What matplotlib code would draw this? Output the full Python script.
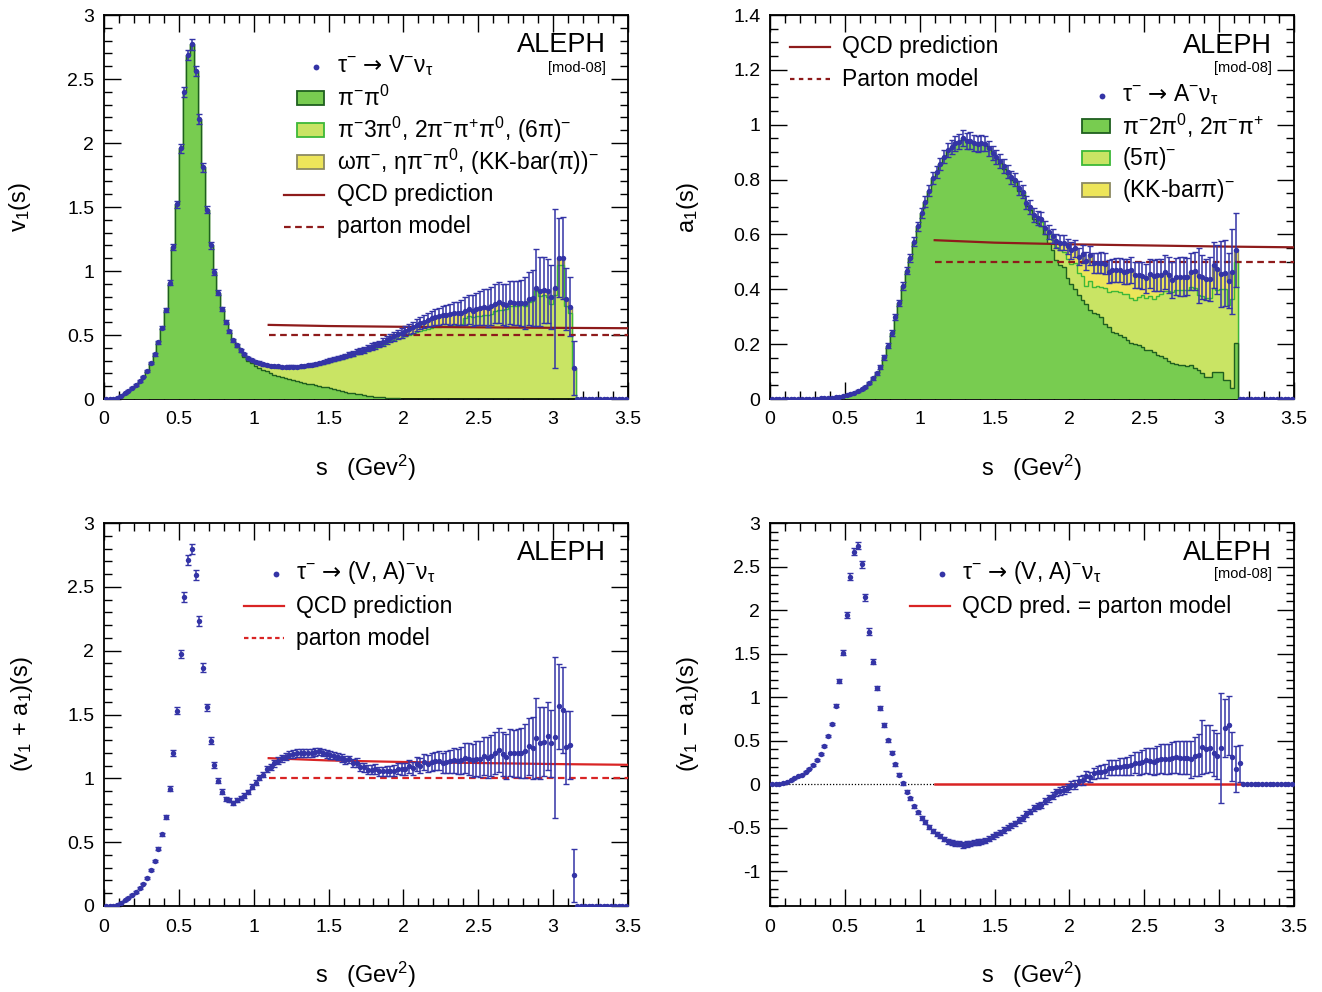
import numpy as np
import matplotlib
matplotlib.use("Agg")
import matplotlib.pyplot as plt
from matplotlib.patches import Rectangle
from matplotlib.lines import Line2D
from matplotlib.ticker import MultipleLocator, FuncFormatter

plt.rcParams['font.family'] = ['Liberation Sans', 'DejaVu Sans']
plt.rcParams['mathtext.fontset'] = 'custom'
plt.rcParams['mathtext.rm'] = 'Liberation Sans'
plt.rcParams['mathtext.it'] = 'Liberation Sans:italic'
plt.rcParams['mathtext.bf'] = 'Liberation Sans:bold'
plt.rcParams['mathtext.sf'] = 'DejaVu Sans'
plt.rcParams['mathtext.default'] = 'regular'

# ---------------------------------------------------------------- data
# 140 bins of 0.025 GeV^2 from 0 to 3.5 GeV^2
bin_width = 0.025
s_edges = np.arange(141) * bin_width
s_mid = s_edges[:-1] + bin_width / 2

# vector spectral function v1(s), total
v1 = [0, 0, 0, 0.008, 0.026, 0.044, 0.065, 0.088, 0.11, 0.14,
      0.175, 0.22, 0.279, 0.349, 0.445, 0.557, 0.695, 0.91, 1.19, 1.52,
      1.96, 2.40, 2.69, 2.77, 2.56, 2.19, 1.81, 1.48, 1.20, 0.99,
      0.83, 0.70, 0.60, 0.53, 0.46, 0.42, 0.38, 0.35, 0.32, 0.305,
      0.29, 0.285, 0.27, 0.265, 0.26, 0.26, 0.255, 0.25, 0.25, 0.253,
      0.252, 0.25, 0.255, 0.258, 0.262, 0.268, 0.272, 0.28, 0.287, 0.295,
      0.303, 0.31, 0.322, 0.33, 0.337, 0.348, 0.355, 0.368, 0.375, 0.385,
      0.398, 0.41, 0.418, 0.43, 0.445, 0.46, 0.48, 0.49, 0.505, 0.515,
      0.53, 0.545, 0.56, 0.58, 0.595, 0.605, 0.62, 0.632, 0.64, 0.645,
      0.655, 0.66, 0.662, 0.67, 0.668, 0.675, 0.69, 0.70, 0.69, 0.705,
      0.712, 0.72, 0.71, 0.725, 0.745, 0.755, 0.74, 0.735, 0.755, 0.752,
      0.75, 0.752, 0.75, 0.785, 0.79, 0.87, 0.84, 0.85, 0.845, 0.80,
      0.865, 1.105, 1.105, 0.78, 0.72, 0.24, 0, 0, 0, 0,
      0, 0, 0, 0, 0, 0, 0, 0, 0, 0]

v1_err = [0, 0, 0, 0.003, 0.004, 0.004, 0.005, 0.005, 0.005, 0.006,
          0.006, 0.007, 0.008, 0.01, 0.012, 0.014, 0.016, 0.02, 0.024, 0.03,
          0.035, 0.04, 0.04, 0.04, 0.04, 0.038, 0.035, 0.03, 0.026, 0.022,
          0.018, 0.016, 0.014, 0.012, 0.011, 0.01, 0.009, 0.009, 0.009, 0.009,
          0.009, 0.009, 0.009, 0.009, 0.009, 0.009, 0.01, 0.01, 0.01, 0.01,
          0.01, 0.01, 0.01, 0.01, 0.01, 0.01, 0.012, 0.012, 0.013, 0.014,
          0.014, 0.015, 0.016, 0.016, 0.017, 0.018, 0.019, 0.02, 0.021, 0.022,
          0.023, 0.024, 0.026, 0.027, 0.028, 0.03, 0.031, 0.033, 0.035, 0.036,
          0.038, 0.04, 0.042, 0.045, 0.047, 0.05, 0.055, 0.058, 0.062, 0.065,
          0.07, 0.075, 0.08, 0.085, 0.09, 0.095, 0.11, 0.115, 0.12, 0.125,
          0.13, 0.14, 0.15, 0.15, 0.155, 0.16, 0.16, 0.165, 0.17, 0.17,
          0.175, 0.18, 0.2, 0.21, 0.22, 0.3, 0.27, 0.26, 0.25, 0.25,
          0.62, 0.31, 0.32, 0.24, 0.23, 0.21, 0, 0, 0, 0,
          0, 0, 0, 0, 0, 0, 0, 0, 0, 0]

# pi- pi0 contribution to v1
v1_2pi = [0, 0, 0, 0.008, 0.026, 0.044, 0.065, 0.088, 0.11, 0.14,
          0.175, 0.22, 0.279, 0.349, 0.445, 0.557, 0.695, 0.91, 1.19, 1.52,
          1.96, 2.40, 2.69, 2.77, 2.56, 2.19, 1.81, 1.48, 1.20, 0.99,
          0.83, 0.70, 0.60, 0.525, 0.45, 0.405, 0.365, 0.33, 0.30, 0.28,
          0.26, 0.245, 0.227, 0.215, 0.20, 0.19, 0.182, 0.175, 0.163, 0.155,
          0.148, 0.142, 0.135, 0.128, 0.12, 0.115, 0.109, 0.103, 0.097, 0.09,
          0.083, 0.076, 0.07, 0.063, 0.057, 0.05, 0.045, 0.04, 0.036, 0.032,
          0.027, 0.023, 0.018, 0.015, 0.012, 0.01, 0.007, 0.005, 0.004, 0.003,
          0.002, 0.0015, 0.001, 0.001, 0.001, 0.001, 0.001, 0.001, 0.001, 0.001,
          0, 0, 0, 0, 0, 0, 0, 0, 0, 0,
          0, 0, 0, 0, 0, 0, 0, 0, 0, 0,
          0, 0, 0, 0, 0, 0, 0, 0, 0, 0,
          0, 0, 0, 0, 0, 0, 0, 0, 0, 0,
          0, 0, 0, 0, 0, 0, 0, 0, 0, 0]

# omega pi, eta pi pi0, KK(pi) contribution to v1 (top of the stack)
v1_other = [0] * 36 + [0.004] * 14 + [
    0.006, 0.006, 0.007, 0.008, 0.008, 0.009, 0.01, 0.01, 0.011, 0.012,
    0.013, 0.014, 0.015, 0.015, 0.016, 0.017, 0.018, 0.018, 0.019, 0.02,
    0.02, 0.021, 0.022, 0.023, 0.024, 0.025, 0.027, 0.029, 0.031, 0.035,
    0.04, 0.045, 0.05, 0.055, 0.06, 0.065, 0.075, 0.08, 0.08, 0.085,
    0.085, 0.09, 0.09, 0.095, 0.098, 0.09, 0.06, 0.055, 0.05, 0.055,
    0.06, 0.06, 0.055, 0.06, 0.06, 0.06, 0.045, 0.035, 0.03, 0.025,
    0.02, 0.02, 0.02, 0.025, 0.025, 0.03, 0.035, 0.04, 0.05, 0.06,
    0.05, 0.06, 0.06, 0.05, 0.05, 0, 0, 0, 0, 0,
    0, 0, 0, 0, 0, 0, 0, 0, 0, 0]

# axial-vector spectral function a1(s), total
a1 = [0, 0, 0, 0, 0, 0, 0, 0, 0, 0,
      0, 0, 0.001, 0.002, 0.003, 0.004, 0.005, 0.007, 0.009, 0.011,
      0.014, 0.018, 0.023, 0.029, 0.035, 0.045, 0.057, 0.075, 0.094, 0.117,
      0.152, 0.195, 0.24, 0.30, 0.35, 0.412, 0.468, 0.515, 0.573, 0.63,
      0.677, 0.72, 0.759, 0.805, 0.829, 0.857, 0.883, 0.908, 0.92, 0.932,
      0.938, 0.952, 0.94, 0.942, 0.934, 0.93, 0.932, 0.931, 0.914, 0.896,
      0.881, 0.868, 0.849, 0.829, 0.808, 0.80, 0.768, 0.756, 0.716, 0.70,
      0.67, 0.659, 0.655, 0.625, 0.61, 0.594, 0.575, 0.57, 0.57, 0.556,
      0.542, 0.55, 0.519, 0.53, 0.503, 0.524, 0.495, 0.497, 0.497, 0.494,
      0.464, 0.47, 0.47, 0.47, 0.464, 0.466, 0.47, 0.452, 0.452, 0.45,
      0.44, 0.457, 0.45, 0.452, 0.452, 0.464, 0.452, 0.434, 0.446, 0.446,
      0.446, 0.446, 0.464, 0.466, 0.45, 0.445, 0.437, 0.437, 0.488, 0.473,
      0.455, 0.46, 0.431, 0.464, 0.543, 0, 0, 0, 0, 0,
      0, 0, 0, 0, 0, 0, 0, 0, 0, 0]

a1_err = [0] * 10 + [0.001] * 10 + [
    0.002, 0.002, 0.002, 0.003, 0.003, 0.004, 0.004, 0.005, 0.006, 0.007,
    0.008, 0.009, 0.01, 0.011, 0.012, 0.013, 0.014, 0.015, 0.016, 0.017,
    0.018, 0.019, 0.02, 0.021, 0.022, 0.023, 0.024, 0.025, 0.026, 0.027,
    0.028, 0.03, 0.03, 0.03, 0.03, 0.03, 0.029, 0.028, 0.027, 0.026,
    0.025, 0.025, 0.025, 0.025, 0.025, 0.025, 0.025, 0.025, 0.025, 0.025,
    0.025, 0.025, 0.025, 0.025, 0.025, 0.025, 0.026, 0.027, 0.028, 0.029,
    0.03, 0.031, 0.032, 0.033, 0.034, 0.035, 0.036, 0.037, 0.038, 0.04,
    0.041, 0.042, 0.043, 0.044, 0.045, 0.046, 0.047, 0.048, 0.049, 0.05,
    0.052, 0.054, 0.056, 0.058, 0.06, 0.062, 0.064, 0.066, 0.068, 0.07,
    0.072, 0.068, 0.067, 0.07, 0.1, 0.08, 0.075, 0.08, 0.085, 0.09,
    0.12, 0.12, 0.1, 0.155, 0.134, 0, 0, 0, 0, 0,
    0, 0, 0, 0, 0, 0, 0, 0, 0, 0]

# pi- 2pi0, 2pi- pi+ contribution to a1
a1_3pi = a1[:60] + [
    0.875, 0.86, 0.84, 0.82, 0.80, 0.79, 0.757, 0.745, 0.705, 0.688,
    0.655, 0.643, 0.63, 0.60, 0.57, 0.545, 0.505, 0.49, 0.48, 0.44,
    0.42, 0.40, 0.38, 0.36, 0.345, 0.325, 0.315, 0.31, 0.30, 0.275,
    0.262, 0.245, 0.24, 0.235, 0.225, 0.215, 0.205, 0.20, 0.197, 0.19,
    0.18, 0.178, 0.17, 0.162, 0.155, 0.148, 0.14, 0.132, 0.128, 0.125,
    0.125, 0.12, 0.125, 0.112, 0.105, 0.095, 0.082, 0.08, 0.10, 0.10,
    0.10, 0.07, 0.07, 0.039, 0.203, 0, 0, 0, 0, 0,
    0, 0, 0, 0, 0, 0, 0, 0, 0, 0]

# KK-bar pi contribution to a1 (top of the stack)
a1_kkpi = [0] * 60 + [0.003] * 10 + [
    0.005, 0.01, 0.01, 0.01, 0.01, 0.015, 0.02, 0.025, 0.035, 0.045,
    0.05, 0.055, 0.06, 0.08, 0.09, 0.095, 0.085, 0.085, 0.087, 0.09,
    0.075, 0.075, 0.075, 0.08, 0.08, 0.085, 0.1, 0.09, 0.08, 0.07,
    0.07, 0.08, 0.085, 0.075, 0.07, 0.07, 0.06, 0.045, 0.05, 0.05,
    0.05, 0.05, 0.055, 0.06, 0.07, 0.07, 0.07, 0.07, 0.085, 0.075,
    0.055, 0.06, 0.09, 0.1, 0.043, 0, 0, 0, 0, 0,
    0, 0, 0, 0, 0, 0, 0, 0, 0, 0]

# perturbative QCD prediction per spectral function (v1 or a1) and parton level
qcd_s = [1.1, 1.5, 2.0, 2.5, 3.0, 3.5]
qcd_val = [0.579, 0.570, 0.564, 0.560, 0.556, 0.553]
parton_s = [1.1, 3.5]
parton_val = [0.5, 0.5]

# ---------------------------------------------------------------- style
C_DARK, C_DARK_EDGE = '#78cc50', '#1f5f1f'
C_LIGHT, C_LIGHT_EDGE = '#c9e464', '#3db838'
C_YEL, C_YEL_EDGE = '#ede55a', '#8c8a62'
C_PT = '#3434a6'
C_QCD_TOP = '#8e1b1b'
C_QCD_BOT = '#d92424'
ARROW = r'$\mathsf{→}$'

W, H = 1322, 992
fig = plt.figure(figsize=(W / 100, H / 100), dpi=100)


def add_panel(x0, y0, x1, y1):
    return fig.add_axes([x0 / W, 1 - y1 / H, (x1 - x0) / W, (y1 - y0) / H])


def fxy(px, py):
    return px / W, 1 - py / H


def fmt(v, _):
    if abs(v) < 1e-9:
        return '0'
    return f'{v:g}'


def style(ax, ylim, ymaj, ymin):
    ax.set_xlim(0, 3.5)
    ax.set_ylim(*ylim)
    ax.xaxis.set_major_locator(MultipleLocator(0.5))
    ax.xaxis.set_minor_locator(MultipleLocator(0.1))
    ax.yaxis.set_major_locator(MultipleLocator(ymaj))
    ax.yaxis.set_minor_locator(MultipleLocator(ymin))
    ax.xaxis.set_major_formatter(FuncFormatter(fmt))
    ax.yaxis.set_major_formatter(FuncFormatter(fmt))
    ax.tick_params(which='both', direction='in', top=True, right=True,
                   width=1.0, labelsize=14)
    ax.tick_params(which='major', length=12)
    ax.tick_params(which='minor', length=6)
    ax.tick_params(axis='x', pad=9)
    ax.tick_params(axis='y', pad=7)
    for sp in ax.spines.values():
        sp.set_linewidth(1.3)


def draw_points(ax, y, err):
    y = np.asarray(y, float)
    err = np.asarray(err, float)
    m = err > 0
    ax.errorbar(s_mid[m], y[m], yerr=err[m], fmt='none', ecolor=C_PT,
                elinewidth=1.1, capsize=2.2, capthick=1.0, zorder=6)
    ax.plot(s_mid, y, 'o', ms=3.9, mew=0, color=C_PT, zorder=7)


def draw_stack(ax, total, light_top, dark):
    ax.stairs(total, s_edges, fill=True, facecolor=C_YEL, edgecolor='none', zorder=1)
    ax.stairs(total, s_edges, color=C_YEL_EDGE, lw=1.0, zorder=1.1)
    ax.stairs(light_top, s_edges, fill=True, facecolor=C_LIGHT, edgecolor='none', zorder=2)
    ax.stairs(light_top, s_edges, color=C_LIGHT_EDGE, lw=1.0, zorder=2.1)
    ax.stairs(dark, s_edges, fill=True, facecolor=C_DARK, edgecolor='none', zorder=3)
    ax.stairs(dark, s_edges, color=C_DARK_EDGE, lw=1.0, zorder=3.1)


def legend_box(px0, px1, py, face, edge):
    x0, y0 = fxy(px0, py + 7)
    x1, y1 = fxy(px1, py - 7)
    fig.patches.append(Rectangle((x0, y0), x1 - x0, y1 - y0, transform=fig.transFigure,
                                 facecolor=face, edgecolor=edge, lw=1.3))


def legend_line(px0, px1, py, color, ls):
    x0, y = fxy(px0, py)
    x1, _ = fxy(px1, py)
    fig.lines.append(Line2D([x0, x1], [y, y], transform=fig.transFigure,
                            color=color, lw=1.6, ls=ls))


def legend_dot(px, py):
    x, y = fxy(px, py)
    fig.lines.append(Line2D([x], [y], transform=fig.transFigure, marker='o',
                            ms=4.2, mew=0, color=C_PT))


def label(px, py, txt, size=16.5, ha='left'):
    x, y = fxy(px, py)
    fig.text(x, y, txt, fontsize=size, ha=ha, va='center')


LEG = 16.5
v1_arr = np.asarray(v1, float)
a1_arr = np.asarray(a1, float)
v1_err_arr = np.asarray(v1_err, float)
a1_err_arr = np.asarray(a1_err, float)

# ---------------------------------------------------------------- v1 panel
ax = add_panel(104, 15, 628, 399)
style(ax, (0, 3), 0.5, 0.1)
draw_stack(ax, v1_arr, v1_arr - np.asarray(v1_other), np.asarray(v1_2pi))
ax.plot(qcd_s, qcd_val, color=C_QCD_TOP, lw=1.6, zorder=4)
ax.plot(parton_s, parton_val, color=C_QCD_TOP, lw=1.6, ls=(0, (3, 2)), zorder=4)
draw_points(ax, v1_arr, v1_err_arr)
ax.text(0.5, -0.18, 's   (Gev$^{2}$)', transform=ax.transAxes, fontsize=17,
        ha='center', va='center')
ax.text(-0.16, 0.5, 'v$_{1}$(s)', transform=ax.transAxes, fontsize=17,
        ha='center', va='center', rotation=90)

label(606, 45, 'ALEPH', 19.5, 'right')
label(606, 68, '[mod-08]', 10.5, 'right')
legend_dot(316, 67)
label(337, 66, 'τ$^{-}$ ' + ARROW + ' V$^{-}$ν$_{τ}$', LEG)
legend_box(297, 324, 98, C_DARK, C_DARK_EDGE)
label(337, 98, 'π$^{-}$π$^{0}$', LEG)
legend_box(297, 324, 130, C_LIGHT, C_LIGHT_EDGE)
label(337, 130, 'π$^{-}$3π$^{0}$, 2π$^{-}$π$^{+}$π$^{0}$, (6π)$^{-}$', LEG)
legend_box(297, 324, 162, C_YEL, C_YEL_EDGE)
label(337, 162, 'ωπ$^{-}$, ηπ$^{-}$π$^{0}$, (KK-bar(π))$^{-}$', LEG)
legend_line(284, 324, 195, C_QCD_TOP, '-')
label(337, 195, 'QCD prediction', LEG)
legend_line(284, 324, 227, C_QCD_TOP, (0, (3, 2)))
label(337, 227, 'parton model', LEG)

# ---------------------------------------------------------------- a1 panel
ax = add_panel(770, 15, 1294, 399)
style(ax, (0, 1.4), 0.2, 0.05)
draw_stack(ax, a1_arr, a1_arr - np.asarray(a1_kkpi), np.asarray(a1_3pi))
ax.plot(qcd_s, qcd_val, color=C_QCD_TOP, lw=1.6, zorder=4)
ax.plot(parton_s, parton_val, color=C_QCD_TOP, lw=1.6, ls=(0, (3, 2)), zorder=4)
draw_points(ax, a1_arr, a1_err_arr)
ax.text(0.5, -0.18, 's   (Gev$^{2}$)', transform=ax.transAxes, fontsize=17,
        ha='center', va='center')
ax.text(-0.156, 0.5, 'a$_{1}$(s)', transform=ax.transAxes, fontsize=17,
        ha='center', va='center', rotation=90)

label(1272, 46, 'ALEPH', 19.5, 'right')
label(1272, 68, '[mod-08]', 10.5, 'right')
legend_line(790, 830, 47, C_QCD_TOP, '-')
label(842, 47, 'QCD prediction', LEG)
legend_line(790, 830, 79, C_QCD_TOP, (0, (2, 2)))
label(842, 79, 'Parton model', LEG)
legend_dot(1102, 96)
label(1122, 95, 'τ$^{-}$ ' + ARROW + ' A$^{-}$ν$_{τ}$', LEG)
legend_box(1082, 1110, 126, C_DARK, C_DARK_EDGE)
label(1122, 126, 'π$^{-}$2π$^{0}$, 2π$^{-}$π$^{+}$', LEG)
legend_box(1082, 1110, 158, C_LIGHT, C_LIGHT_EDGE)
label(1122, 158, '(5π)$^{-}$', LEG)
legend_box(1082, 1110, 190, C_YEL, C_YEL_EDGE)
label(1122, 190, '(KK-barπ)$^{-}$', LEG)

# ---------------------------------------------------------------- v1 + a1 panel
vpa = v1_arr + a1_arr
vpa_err = np.hypot(v1_err_arr, a1_err_arr)
ax = add_panel(104, 523, 628, 906)
style(ax, (0, 3), 0.5, 0.1)
ax.plot(qcd_s, 2 * np.asarray(qcd_val), color=C_QCD_BOT, lw=1.6, zorder=4)
ax.plot(parton_s, 2 * np.asarray(parton_val), color=C_QCD_BOT, lw=1.6,
        ls=(0, (3, 2)), zorder=4)
draw_points(ax, vpa, vpa_err)
ax.text(0.5, -0.18, 's   (Gev$^{2}$)', transform=ax.transAxes, fontsize=17,
        ha='center', va='center')
ax.text(-0.156, 0.5, '(v$_{1}$ + a$_{1}$)(s)', transform=ax.transAxes, fontsize=17,
        ha='center', va='center', rotation=90)

label(606, 553, 'ALEPH', 19.5, 'right')
legend_dot(276, 574)
label(296, 573, 'τ$^{-}$ ' + ARROW + ' (V, A)$^{-}$ν$_{τ}$', LEG)
legend_line(244, 284, 606, C_QCD_BOT, '-')
label(296, 606, 'QCD prediction', LEG)
legend_line(244, 284, 638, C_QCD_BOT, (0, (2, 1.5)))
label(296, 638, 'parton model', LEG)

# ---------------------------------------------------------------- v1 - a1 panel
vma = v1_arr - a1_arr
vma_err = np.hypot(v1_err_arr, a1_err_arr)
ax = add_panel(770, 523, 1294, 906)
style(ax, (-1.4, 3), 0.5, 0.1)
ax.plot([0, parton_s[0]], [0, 0], color='black', lw=0.9, ls=(0, (1, 1.5)), zorder=3)
ax.plot(parton_s, [0, 0], color=C_QCD_BOT, lw=1.8, zorder=4)
draw_points(ax, vma, vma_err)
ax.text(0.5, -0.18, 's   (Gev$^{2}$)', transform=ax.transAxes, fontsize=17,
        ha='center', va='center')
ax.text(-0.156, 0.5, '(v$_{1}$ − a$_{1}$)(s)', transform=ax.transAxes, fontsize=17,
        ha='center', va='center', rotation=90)

label(1272, 553, 'ALEPH', 19.5, 'right')
label(1272, 574, '[mod-08]', 10.5, 'right')
legend_dot(942, 574)
label(962, 573, 'τ$^{-}$ ' + ARROW + ' (V, A)$^{-}$ν$_{τ}$', LEG)
legend_line(910, 950, 606, C_QCD_BOT, '-')
label(962, 606, 'QCD pred. = parton model', LEG)

fig.savefig('out.png', dpi=100)
